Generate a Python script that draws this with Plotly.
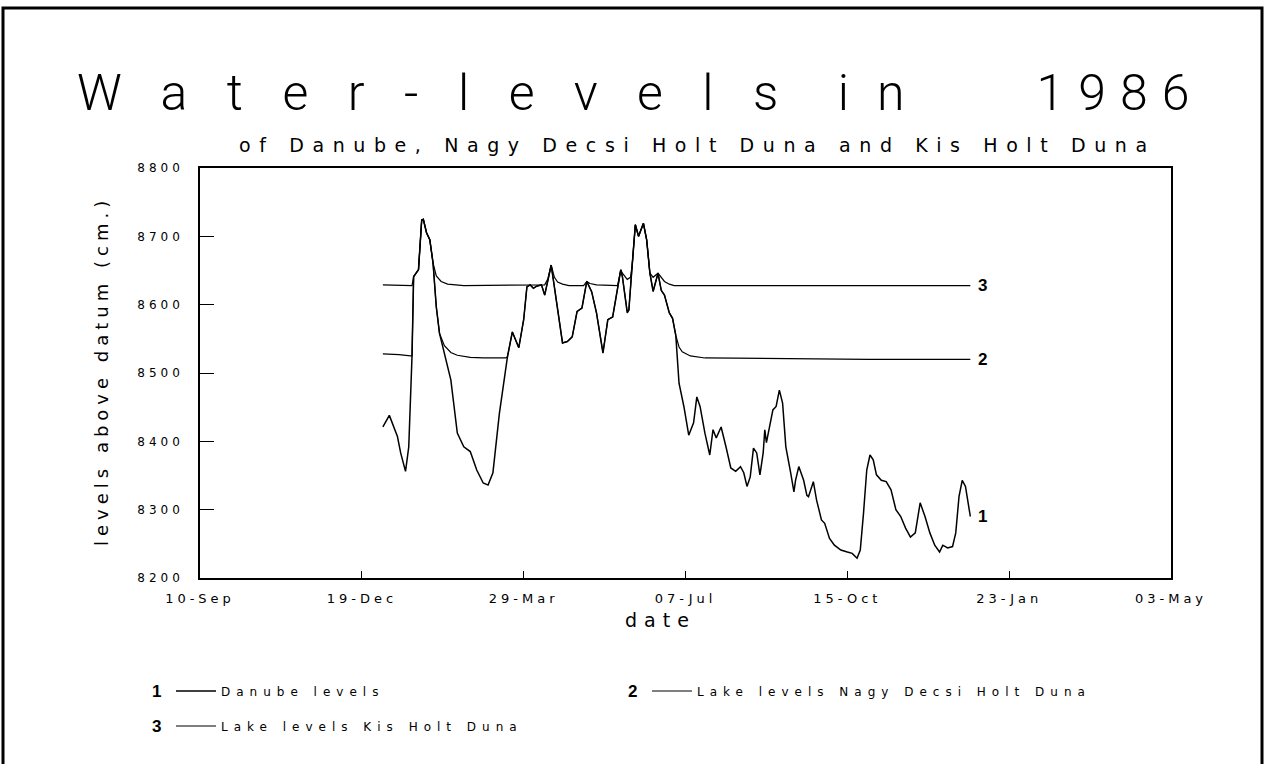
import plotly.graph_objects as go
import pandas as pd

# ---------------- data ----------------
# day number within 1986 (0 = 1 January 1986), water level in cm above datum
danube_day = [0, 4, 9, 11, 14, 16, 18, 19, 21, 22, 24, 25, 27, 29, 31, 33, 35, 38, 42, 46,
              50, 54, 58, 62, 65, 68, 72, 77, 80, 84, 87, 89, 91, 93, 95, 98, 100, 104, 106,
              111, 114, 117, 120, 123, 126, 129, 132, 136, 139, 142, 147, 148, 151, 152, 154,
              156, 158, 161, 163, 165, 167, 170, 172, 174, 177, 179, 181, 183, 186, 189, 192,
              194, 196, 199, 202, 204, 206, 209, 212, 215, 218, 221, 223, 225, 227, 229, 231,
              233, 235, 236, 237, 239, 241, 243, 245, 247, 249, 252, 254, 255, 257, 260, 262,
              263, 266, 268, 271, 273, 276, 279, 283, 287, 290, 293, 295, 297, 299, 301, 303,
              305, 308, 311, 314, 317, 320, 323, 326, 329, 331, 332, 335, 338, 341, 344, 346,
              349, 352, 354, 356, 358, 360, 362, 363]
danube_cm = [8421, 8438, 8407, 8383, 8356, 8392, 8524, 8641, 8648, 8651, 8724, 8725, 8705, 8695,
             8661, 8597, 8558, 8529, 8490, 8412, 8392, 8385, 8358, 8339, 8336, 8354, 8441, 8524,
             8560, 8537, 8578, 8626, 8629, 8624, 8627, 8629, 8614, 8658, 8626, 8544, 8546, 8553,
             8590, 8595, 8634, 8619, 8588, 8529, 8578, 8582, 8651, 8641, 8588, 8592, 8656, 8717,
             8700, 8719, 8695, 8646, 8619, 8646, 8621, 8614, 8588, 8580, 8555, 8485, 8451, 8409,
             8427, 8465, 8451, 8412, 8380, 8417, 8405, 8421, 8392, 8361, 8356, 8363, 8354, 8334,
             8348, 8390, 8383, 8351, 8383, 8417, 8398, 8421, 8446, 8451, 8475, 8456, 8392, 8354,
             8326, 8343, 8363, 8343, 8321, 8319, 8341, 8314, 8285, 8280, 8258, 8248, 8241, 8238,
             8236, 8229, 8241, 8295, 8358, 8380, 8373, 8351, 8343, 8341, 8329, 8300, 8290, 8273,
             8260, 8266, 8295, 8310, 8290, 8266, 8248, 8238, 8248, 8244, 8246, 8266, 8319, 8343,
             8334, 8300, 8290]

nagy_day = [0, 10, 17, 18, 19, 21, 22, 24, 25, 27, 29, 31, 33, 35, 38, 42, 46, 54, 62, 76, 77,
            80, 84, 87, 89, 91, 93, 95, 98, 100, 104, 106, 111, 114, 117, 120, 123, 126, 129,
            132, 136, 139, 142, 147, 148, 151, 152, 154, 156, 158, 161, 163, 165, 167, 170, 172,
            174, 177, 179, 181, 183, 185, 190, 199, 250, 300, 363]
nagy_cm = [8528, 8527, 8525, 8525, 8641, 8648, 8651, 8724, 8725, 8705, 8695, 8661, 8597, 8558,
           8540, 8530, 8526, 8523, 8522, 8522, 8524, 8560, 8537, 8578, 8626, 8629, 8624, 8627,
           8629, 8614, 8658, 8626, 8544, 8546, 8553, 8590, 8595, 8634, 8619, 8588, 8530, 8578,
           8582, 8651, 8641, 8590, 8592, 8656, 8717, 8700, 8719, 8695, 8646, 8620, 8646, 8621,
           8614, 8588, 8580, 8555, 8538, 8531, 8525, 8522, 8521, 8520, 8520]

kis_day = [0, 18, 19, 21, 22, 24, 25, 27, 29, 31, 33, 36, 40, 50, 98, 100, 102, 104, 106, 108,
           111, 115, 124, 126, 128, 132, 145, 147, 148, 151, 153, 154, 156, 158, 161, 163, 165,
           167, 170, 172, 174, 177, 180, 363]
kis_cm = [8629, 8628, 8641, 8648, 8651, 8724, 8725, 8705, 8695, 8661, 8642, 8634, 8630, 8628,
          8629, 8629, 8638, 8658, 8640, 8633, 8630, 8628, 8628, 8634, 8631, 8629, 8628, 8651,
          8646, 8637, 8640, 8656, 8717, 8700, 8719, 8695, 8646, 8640, 8646, 8640, 8634, 8630,
          8628, 8628]

series_names = ["Danube levels", "Lake levels Nagy Decsi Holt Duna", "Lake levels Kis Holt Duna"]
series_tags = ["1", "2", "3"]

x_tick_dates = ["1985-09-10", "1985-12-19", "1986-03-29", "1986-07-07",
                "1986-10-15", "1987-01-23", "1987-05-03"]
x_tick_labels = ["10-Sep", "19-Dec", "29-Mar", "07-Jul", "15-Oct", "23-Jan", "03-May"]
y_ticks = [8200, 8300, 8400, 8500, 8600, 8700, 8800]

# ---------------- figure ----------------
base = pd.Timestamp("1986-01-01")
NBSP = "\u00a0"


def to_dates(days):
    return [base + pd.Timedelta(days=d) for d in days]


def spaced(text, px):
    return f"<span style='letter-spacing:{px}px'>{text}</span>"


FONT = "DejaVu Sans, Verdana, sans-serif"
NARROW = "Liberation Sans Narrow, Arial Narrow, sans-serif"
W, H = 1266, 764
L, R, T, B = 200, 95, 168, 186
PW, PH = W - L - R, H - T - B


def px_x(px):
    return (px - L) / PW


def px_y(py):
    return (H - B - py) / PH


series = [(danube_day, danube_cm, 1.5, "legend"),
          (nagy_day, nagy_cm, 1.2, "legend2"),
          (kis_day, kis_cm, 1.2, "legend3")]

fig = go.Figure()
for (days, vals, lw, lg), name in zip(series, series_names):
    fig.add_trace(go.Scatter(
        x=to_dates(days), y=vals, mode="lines", name=spaced(name, 6),
        line=dict(color="black", width=lw), legend=lg, hoverinfo="x+y"))

annotations = []
# end-of-line tags
for (days, vals, _, _), tag in zip(series, series_tags):
    annotations.append(dict(
        x=to_dates(days)[-1], y=vals[-1], xref="x", yref="y", text=f"<b>{tag}</b>",
        showarrow=False, xanchor="left", yanchor="middle", xshift=6,
        font=dict(family=NARROW, size=17, color="black")))

# title (widely spaced plotter lettering) & subtitle
title_html = (spaced("Water-levels", 39.5) + spaced(NBSP, 7.6) + spaced("in", 28)
              + spaced(NBSP, 92) + spaced("1986", 14))
annotations.append(dict(
    x=px_x(75), y=px_y(93), xref="paper", yref="paper", xanchor="left", yanchor="middle",
    text=title_html, showarrow=False,
    font=dict(family="Roboto, DejaVu Sans, sans-serif", size=50, color="black", weight=300)))
annotations.append(dict(
    x=px_x(237), y=px_y(145), xref="paper", yref="paper", xanchor="left", yanchor="middle",
    text=spaced("of Danube, Nagy Decsi Holt Duna and Kis Holt Duna", 8.6), showarrow=False,
    font=dict(family=FONT, size=19, color="black")))
# axis titles
annotations.append(dict(
    x=px_x(660), y=px_y(620), xref="paper", yref="paper", xanchor="center", yanchor="middle",
    text=spaced("date", 7), showarrow=False, font=dict(family=FONT, size=19, color="black")))
annotations.append(dict(
    x=px_x(101), y=px_y(371), xref="paper", yref="paper", xanchor="center", yanchor="middle",
    text=spaced("levels above datum (cm.)", 5), textangle=-90, showarrow=False,
    font=dict(family=FONT, size=18, color="black")))

# legend blocks: (number centre x, legend left x, row centre y)
legend_pos = [(156, 171, 691), (632, 647, 691), (156, 171, 726)]
for (nx, lx, ly), tag in zip(legend_pos, series_tags):
    annotations.append(dict(
        x=px_x(nx), y=px_y(ly), xref="paper", yref="paper", xanchor="center", yanchor="middle",
        text=f"<b>{tag}</b>", showarrow=False,
        font=dict(family=NARROW, size=17, color="black")))

legend_style = dict(xanchor="left", yanchor="middle", bgcolor="rgba(0,0,0,0)", borderwidth=0,
                    font=dict(family=FONT, size=12, color="black"), itemclick=False,
                    itemdoubleclick=False, itemwidth=40)

fig.update_layout(
    width=W, height=H,
    margin=dict(l=L, r=R, t=T, b=B, autoexpand=False),
    paper_bgcolor="white", plot_bgcolor="white",
    showlegend=True,
    legend=dict(x=px_x(legend_pos[0][1]), y=px_y(legend_pos[0][2]), **legend_style),
    legend2=dict(x=px_x(legend_pos[1][1]), y=px_y(legend_pos[1][2]), **legend_style),
    legend3=dict(x=px_x(legend_pos[2][1]), y=px_y(legend_pos[2][2]), **legend_style),
    xaxis=dict(type="date", range=[x_tick_dates[0], x_tick_dates[-1]],
               tickvals=x_tick_dates, ticktext=[spaced(t, 4) for t in x_tick_labels],
               ticks="inside", ticklen=7, tickwidth=1.2, tickcolor="black",
               showline=True, linecolor="black", linewidth=1.5, mirror=True,
               showgrid=False, zeroline=False, ticklabelstandoff=8,
               tickfont=dict(family=FONT, size=13, color="black")),
    yaxis=dict(range=[y_ticks[0], y_ticks[-1]], tickvals=y_ticks,
               ticktext=[spaced(str(v), 4) for v in y_ticks],
               ticks="inside", ticklen=14, tickwidth=1.2, tickcolor="black",
               showline=True, linecolor="black", linewidth=1.5, mirror=True,
               showgrid=False, zeroline=False, ticklabelstandoff=12,
               tickfont=dict(family=FONT, size=12, color="black")),
    annotations=annotations,
    shapes=[dict(type="rect", xref="paper", yref="paper",
                 x0=px_x(3), x1=px_x(1262), y0=px_y(800), y1=px_y(8),
                 line=dict(color="black", width=3), fillcolor="rgba(0,0,0,0)", layer="below")],
)

fig.write_html("out.html", config={"displayModeBar": False},
               post_script="document.body.style.margin='0';document.body.style.overflow='hidden';")
